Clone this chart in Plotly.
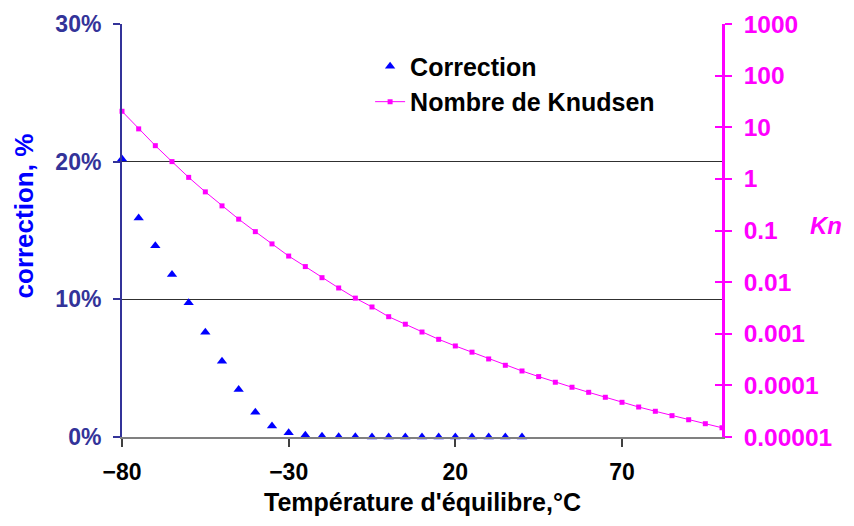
import plotly.graph_objects as go

temps = [-80, -75, -70, -65, -60, -55, -50, -45, -40, -35, -30, -25, -20, -15, -10, -5, 0,
         5, 10, 15, 20, 25, 30, 35, 40, 45, 50, 55, 60, 65, 70, 75, 80, 85, 90, 95, 100]

corr_temps = [-80, -75, -70, -65, -60, -55, -50, -45, -40, -35, -30, -25, -20, -15, -10, -5, 0,
              5, 10, 15, 20, 25, 30, 35, 40]
correction = [0.202, 0.159, 0.139, 0.118, 0.0975, 0.076, 0.055, 0.0345, 0.018, 0.008, 0.003,
              0.0012, 0.0005, 0.0002, 0.0001, 0, 0, 0, 0, 0, 0, 0, 0, 0, 0]

knudsen = [20.4, 9.3, 4.4, 2.16, 1.07, 0.56, 0.30, 0.166, 0.095, 0.055, 0.032, 0.020, 0.0122,
           0.0077, 0.0049, 0.0033, 0.00214, 0.00153, 0.00108, 0.00078, 0.00058, 0.00044,
           0.000325, 0.000245, 0.00019, 0.000148, 0.000115, 0.000092, 0.0000734, 0.0000588,
           0.000047, 0.0000381, 0.0000315, 0.0000259, 0.0000216, 0.0000181, 0.0000151]

x_ticks = [-80, -30, 20, 70]
left_ticks = [0, 0.1, 0.2, 0.3]
right_tickvals = [1000, 100, 10, 1, 0.1, 0.01, 0.001, 0.0001, 0.00001]
right_ticktext = ["1000", "100", "10", "1", "0.1", "0.01", "0.001", "0.0001", "0.00001"]

FONT = "Liberation Sans, Arial, sans-serif"
NAVY = "#333399"
MAG = "#FF00FF"
PH = 413  # plot height in px

fig = go.Figure()
fig.add_trace(go.Scatter(
    x=corr_temps, y=correction, name="Correction", mode="markers",
    marker=dict(symbol="triangle-up", size=9, color="#0000FF"),
    yaxis="y", cliponaxis=False))
fig.add_trace(go.Scatter(
    x=temps, y=knudsen, name="Nombre de Knudsen", mode="lines+markers",
    line=dict(color=MAG, width=1), marker=dict(symbol="square", size=5, color=MAG),
    yaxis="y2", cliponaxis=False))

fig.update_layout(
    width=846, height=510,
    margin=dict(l=114, r=132, t=16, b=81, autoexpand=False),
    plot_bgcolor="white", paper_bgcolor="white",
    font=dict(family=FONT, size=23, color="black", weight="bold"),
    showlegend=True,
    legend=dict(x=0.4135, y=0.953, xanchor="left", yanchor="top",
                bgcolor="rgba(0,0,0,0)", font=dict(size=25, weight="bold"),
                tracegroupgap=0, itemwidth=30),
    xaxis=dict(range=[-80, 100], tickvals=x_ticks, ticks="outside", ticklen=8,
               tickwidth=1.5, tickcolor="#404040", showline=True, linecolor="#808080",
               linewidth=2, showgrid=False, zeroline=False, ticklabelstandoff=5,
               automargin=False,
               tickfont=dict(size=23, color="black", weight="bold")),
    yaxis=dict(range=[0, 0.3], tickvals=left_ticks, tickformat=".0%", ticks="outside",
               ticklen=7, tickwidth=2, tickcolor=NAVY, showline=True, linecolor=NAVY,
               linewidth=2, showgrid=True, gridcolor="#303030", gridwidth=1,
               zeroline=False, ticklabelstandoff=7, automargin=False,
               tickfont=dict(size=23, color=NAVY, weight="bold")),
    yaxis2=dict(type="log", range=[-5, 3], tickvals=right_tickvals, ticktext=right_ticktext,
                overlaying="y", side="right", anchor="x", ticks="outside", ticklen=7,
                tickwidth=2, tickcolor=MAG, showline=True, linecolor=MAG, linewidth=2.5,
                showgrid=False, zeroline=False, ticklabelstandoff=7, automargin=False,
                tickfont=dict(size=24.5, color=MAG, weight="bold")),
    yaxis3=dict(type="log", range=[-5, 3], tickvals=right_tickvals, showticklabels=False,
                overlaying="y", side="right", anchor="x", ticks="inside", ticklen=7,
                tickwidth=2, tickcolor=MAG, showline=False, showgrid=False, zeroline=False,
                automargin=False),
    annotations=[
        dict(text="Température d'équilibre,°C", xref="paper", yref="paper",
             x=0.5, y=-65/PH, xanchor="center", yanchor="middle", showarrow=False,
             font=dict(size=25, color="black", weight="bold")),
        dict(text="correction, %", xref="paper", yref="paper", x=-98/600, y=0.534,
             xanchor="center", yanchor="middle", textangle=-90, showarrow=False,
             font=dict(size=26, color="#0000FF", weight="bold")),
        dict(text="<i>Kn</i>", xref="paper", yref="paper", x=1 + 104/600, y=(437-225)/PH,
             xanchor="center", yanchor="middle", showarrow=False,
             font=dict(size=24, color=MAG, weight="bold")),
    ],
)
# dummy trace to activate yaxis3 (cross ticks on the right)
fig.add_trace(go.Scatter(x=[None], y=[None], yaxis="y3", showlegend=False, hoverinfo="skip"))

fig.write_html("out.html")
